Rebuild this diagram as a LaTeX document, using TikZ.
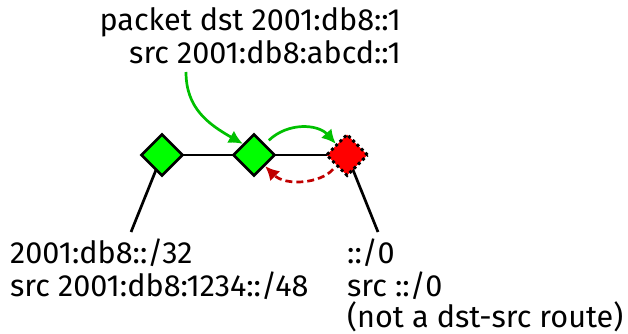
\documentclass[tikz,border=0pt]{standalone}
\usepackage{fontspec}
\setmainfont{Fira Sans}
\usetikzlibrary{shapes.geometric,arrows.meta,backgrounds}
\definecolor{nodegreen}{HTML}{00FF00}
\definecolor{arrowgreen}{HTML}{00C000}
\definecolor{darkred}{HTML}{C00000}
\begin{document}
\begin{tikzpicture}[x=1pt,y=-1pt,
  router/.style={diamond,draw=black,line width=2.7pt,fill=nodegreen,minimum width=42pt,minimum height=42pt,inner sep=0pt,aspect=1},
  badrouter/.style={router,fill=red,line width=3pt,dash pattern=on 3pt off 3pt},
  link/.style={line width=2.7pt,black},
  lbl/.style={font=\fontsize{30.6}{33}\selectfont,inner sep=0pt},
  fwd/.style={arrowgreen,line width=2.7pt,-{Latex[length=14pt,width=14pt]}},
  back/.style={darkred,line width=2.7pt,dash pattern=on 7pt off 4pt,-{Latex[length=14pt,width=14pt]}}]
\useasboundingbox (0,0) rectangle (628,334);
\node[router] (a) at (162,155) {};
\node[router] (b) at (254,155) {};
\node[badrouter] (c) at (347,155) {};
\coordinate (lend) at (131,232);
\coordinate (rend) at (378,232);
\coordinate (pktfoot) at (186,72);
\begin{pgfonlayer}{background}
\draw[link] (a.center) -- (c.center);
\draw[link] (a.center) -- (lend);
\draw[link] (c.center) -- (rend);
\end{pgfonlayer}
\node[lbl,anchor=base east] (pkt1) at (401,31) {packet dst 2001:db8::1};
\node[lbl,anchor=base east] (pkt2) at (401,64) {src 2001:db8:abcd::1};
\node[lbl,anchor=base west] (l1) at (10,263) {2001:db8::/32};
\node[lbl,anchor=base west] (l2) at (10,296) {src 2001:db8:1234::/48};
\node[lbl,anchor=base west] (r1) at (347,263) {::/0};
\node[lbl,anchor=base west] (r2) at (347,296) {src ::/0};
\node[lbl,anchor=base west] (r3) at (347,327) {(not a dst-src route)};
\draw[fwd] (pktfoot) .. controls (186,108) and (208,124) .. (b.north west);
\draw[fwd,shorten <=5pt] (b.north east) .. controls (288,122) and (318,124) .. (c.north west);
\draw[back,shorten <=4pt] (c.south west) .. controls (320,184) and (285,186) .. (b.south east);
\end{tikzpicture}
\end{document}
